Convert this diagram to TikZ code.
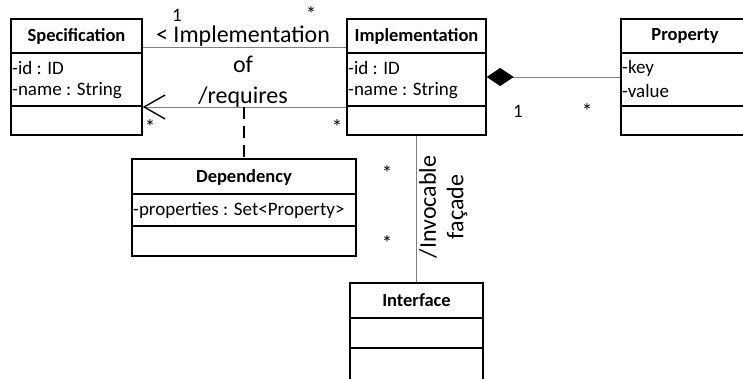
\documentclass[tikz,border=0pt]{standalone}
\usepackage{fontspec}
\setmainfont{Carlito}
\usetikzlibrary{arrows.meta,calc}
\begin{document}
\begin{tikzpicture}[x=1pt,y=-1pt,
  classbox/.style={draw=black,line width=1.4pt,rectangle,inner sep=0pt},
  divider/.style={draw=black,line width=1.4pt},
  ctitle/.style={font=\fontsize{18.5}{22}\selectfont\bfseries,inner sep=0pt},
  attr/.style={font=\fontsize{19}{22}\selectfont,inner sep=0pt,anchor=west},
  assoc/.style={draw=black!50,line width=1pt},
  lbl/.style={font=\fontsize{24}{28}\selectfont,inner sep=0pt},
  mult/.style={font=\fontsize{19}{22}\selectfont,inner sep=0pt},
  star/.style={font=\fontsize{21}{24}\selectfont,inner sep=0pt,anchor=base}]
\useasboundingbox (0,0) rectangle (743,378);
% Specification
\node[classbox,minimum width=131pt,minimum height=116pt] (spec) at (76.5,77) {};
\node[ctitle] (spect) at (76.5,36) {Specification};
\draw[divider] (11,53) -- (142,53);
\draw[divider] (11,106) -- (142,106);
\node[attr] (specid) at (12,68) {-id : ID};
\node[attr] (specname) at (12,91) {-name : String};
% Implementation
\node[classbox,minimum width=139pt,minimum height=116pt] (impl) at (416.5,77) {};
\node[ctitle] (implt) at (416.5,36) {Implementation};
\draw[divider] (347,53) -- (486,53);
\draw[divider] (347,106) -- (486,106);
\node[attr] (implid) at (348,68) {-id : ID};
\node[attr] (implname) at (348,91) {-name : String};
% Property
\node[classbox,minimum width=129pt,minimum height=116pt] (prop) at (685.5,77) {};
\node[ctitle] (propt) at (685,36) {Property};
\draw[divider] (621,53) -- (750,53);
\draw[divider] (621,106) -- (750,106);
\node[attr] (propk) at (622,68) {-key};
\node[attr] (propv) at (622,91) {-value};
% Dependency
\node[classbox,minimum width=224pt,minimum height=97pt] (dep) at (244,207.5) {};
\node[ctitle] (dept) at (244,177) {Dependency};
\draw[divider] (132,194) -- (356,194);
\draw[divider] (132,226) -- (356,226);
\node[attr] (depp) at (133,210) {-properties : Set<Property>};
% Interface
\node[classbox,minimum width=133pt,minimum height=120pt] (iface) at (416.5,343) {};
\node[ctitle] (ifacet) at (416.5,300) {Interface};
\draw[divider] (350,318) -- (483,318);
\draw[divider] (350,348) -- (483,348);
% connectors
\draw[assoc] ([yshift=30pt]spec.east) -- ([yshift=30pt]impl.west);
\draw[assoc,{Straight Barb[black,length=21pt,width=24pt,line width=1.4pt]}-] ([yshift=-30pt]spec.east) -- ([yshift=-30pt]impl.west);
\coordinate (req) at (244,107);
\draw[black,line width=1.4pt,dash pattern=on 12pt off 7pt] (req) -- (dep.north);
\draw[assoc,-{Diamond[black,length=27pt,width=18pt]}] (prop.west) -- (impl.east);
\draw[assoc] (impl.south) -- (iface.north);
% labels
\node[lbl] (l1) at (243,36) {< Implementation};
\node[lbl] (l2) at (243,64) {of};
\node[lbl] (l3) at (243,97) {/requires};
\node[lbl,rotate=90] (l4) at (428,207) {/Invocable};
\node[lbl,rotate=90] (l5) at (457,207) {façade};
% multiplicities
\node[mult] (m1) at (177,15) {1};
\node[star] (m2) at (311,21) {*};
\node[star] (m3) at (150,134) {*};
\node[star] (m4) at (337,134) {*};
\node[mult] (m5) at (518,111) {1};
\node[star] (m6) at (587,118) {*};
\node[star] (m7) at (387,180) {*};
\node[star] (m8) at (387,250) {*};
\end{tikzpicture}
\end{document}
